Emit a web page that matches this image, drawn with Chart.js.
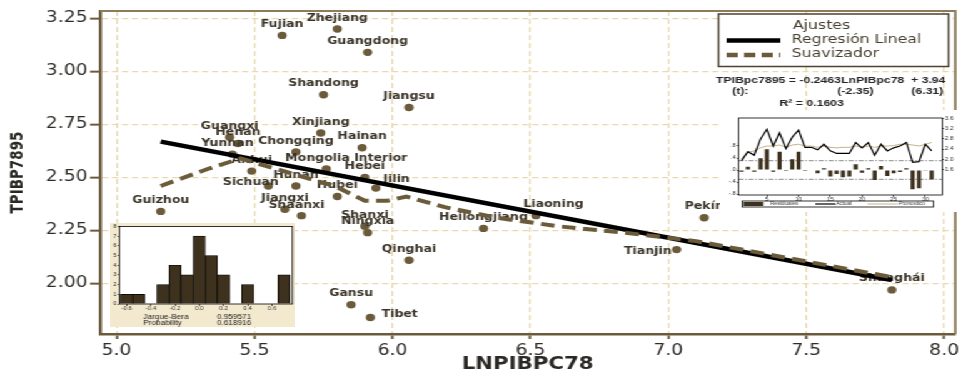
<!DOCTYPE html>
<html lang="es">
<head>
<meta charset="utf-8">
<title>TPIBP7895 vs LNPIBPC78</title>
<script src="https://cdn.jsdelivr.net/npm/chart.js@4.4.1/dist/chart.umd.min.js"></script>
<style>
  html, body { margin: 0; padding: 0; background: #fff; overflow: hidden; }
  #stage { position: relative; width: 770px; height: 375px; transform: scaleX(1.2506); transform-origin: 0 0; }
  #stage canvas { position: absolute; display: block; }
  #main { left: 0; top: 0; }
  #hist { left: 88px; top: 223px; }
  #resid { left: 576px; top: 110px; }
</style>
</head>
<body>
<div id="stage">
  <canvas id="main" width="770" height="375"></canvas>
  <canvas id="hist" width="148" height="104"></canvas>
  <canvas id="resid" width="190" height="102"></canvas>
</div>
<script>
// ---------- scatter: provinces ----------
const provinces = ['Fujian','Zhejiang','Guangdong','Shandong','Jiangsu','Xinjiang','Hainan','Guangxi','Henan','Yunnan',
  'Chongqing','Anhui','Mongolia Interior','Hebei','Hunan','Sichuan','Jilin','Hubei','Jiangxi','Shaanxi',
  'Shanxi','Ningxia','Guizhou','Qinghai','Gansu','Tibet','Heilongjiang','Liaoning','Pekín','Tianjin','Shanghái'];
const lnGdp78 = [5.60,5.80,5.91,5.75,6.06,5.74,5.89,5.41,5.44,5.42,
  5.65,5.49,5.76,5.90,5.65,5.55,5.94,5.80,5.61,5.67,
  5.90,5.91,5.16,6.06,5.85,5.92,6.33,6.52,7.13,7.03,7.81];
const growth7895 = [3.17,3.20,3.09,2.89,2.83,2.71,2.64,2.69,2.66,2.61,
  2.62,2.53,2.54,2.50,2.46,2.46,2.45,2.41,2.35,2.32,
  2.27,2.24,2.34,2.11,1.90,1.84,2.26,2.32,2.31,2.16,1.97];

// fitted line TPIBpc7895 = -0.2463 LnPIBpc78 + 3.94
const regSlope = -0.2463;
const regIntercept = 3.94;

// nearest-neighbour smoother
const smoothX = [5.16,5.33,5.45,5.63,5.79,5.90,5.98,6.05,6.19,6.38,6.60,6.84,7.10,7.81];
const smoothY = [2.46,2.54,2.59,2.52,2.46,2.39,2.39,2.41,2.36,2.31,2.27,2.24,2.20,2.03];

const xTicks = [5.0,5.5,6.0,6.5,7.0,7.5,8.0];
const yTicks = [2.00,2.25,2.50,2.75,3.00,3.25];

// ---------- residual histogram ----------
const histBinCenters = [-0.6,-0.5,-0.4,-0.3,-0.2,-0.1,0.0,0.1,0.2,0.3,0.4,0.5,0.6,0.7];
const histCounts = [1,1,0,2,4,3,7,5,3,0,2,0,0,3];
const histTicks = [-0.6,-0.4,-0.2,0.0,0.2,0.4,0.6];
const histCountTicks = [0,1,2,3,4,5,6,7,8];
const jarqueBera = '0.959571';
const jbProbability = '0.618916';

// ---------- residual / actual / fitted ----------
const residuals = [-0.06,0.11,-0.06,0.39,0.69,-0.06,0.61,-0.03,0.36,0.61,
  -0.03,0.02,-0.11,0.06,-0.22,-0.13,-0.24,-0.22,0.19,-0.09,
  0.06,-0.33,0.13,-0.20,-0.11,-0.07,0.06,-0.64,-0.61,-0.01,-0.31];
const residActual = [1.95,2.30,2.16,2.80,3.18,2.52,3.04,2.42,2.87,3.15,
  2.47,2.47,2.37,2.59,2.33,2.23,2.23,2.23,2.66,2.45,
  2.66,2.16,2.59,2.33,2.45,2.52,2.66,1.88,1.91,2.59,2.33];
const residFitted = [2.02,2.28,2.33,2.45,2.52,2.52,2.56,2.47,2.56,2.59,
  2.52,2.52,2.47,2.52,2.47,2.45,2.47,2.47,2.52,2.47,
  2.52,2.47,2.52,2.52,2.54,2.59,2.59,2.56,2.52,2.59,2.66];
const residSE = 0.31;
const obsTicks = [5,10,15,20,25,30];
const residTicks = [-0.8,-0.4,0,0.4,0.8];
const levelTicks = [1.6,2.0,2.4,2.8,3.2,3.6];

// ---------- styling ----------
const BROWN = '#6b5b3b';
const AXIS = '#6b5b3d';
const GRID = '#e8d9b0';
const LABEL_FONT = 'bold 10px "DejaVu Sans"';

// where a province name sits relative to its marker (canvas px)
const labelPlacement = {
  'Tibet':             { align: 'left',   dx: 9,   dy: -3 },
  'Tianjin':           { align: 'right',  dx: -4,  dy: 2 },
  'Sichuan':           { align: 'center', dx: -14, dy: -4 },
  'Jilin':             { align: 'left',   dx: 6,   dy: -9 },
  'Liaoning':          { align: 'center', dx: 14,  dy: -11 },
  'Mongolia Interior': { align: 'center', dx: 16,  dy: -11 },
  'Shaanxi':           { align: 'center', dx: -4,  dy: -10 },
  'Yunnan':            { align: 'center', dx: -4,  dy: -11 }
};
const defaultPlacement = { align: 'center', dx: 0, dy: -11 };

const fixTicks = list => scale => { scale.ticks = list.map(v => ({ value: v })); };

// ---------- main scatter ----------
const points = provinces.map((p, i) => ({ x: lnGdp78[i], y: growth7895[i] }));
const xLo = Math.min(...lnGdp78), xHi = Math.max(...lnGdp78);
const regLine = [xLo, xHi].map(x => ({ x, y: regIntercept + regSlope * x }));
const smoothLine = smoothX.map((x, i) => ({ x, y: smoothY[i] }));

const mainDecor = {
  id: 'mainDecor',
  afterDatasetDraw(chart, args) {
    if (args.index !== 2) return;
    const ctx = chart.ctx;
    ctx.save();
    ctx.font = LABEL_FONT;
    ctx.fillStyle = '#3a3327';
    ctx.textBaseline = 'middle';
    args.meta.data.forEach((pt, i) => {
      const p = labelPlacement[provinces[i]] || defaultPlacement;
      ctx.textAlign = p.align;
      ctx.fillText(provinces[i], pt.x + p.dx, pt.y + p.dy);
    });
    ctx.restore();
  },
  afterDraw(chart) {
    const { ctx, chartArea: a } = chart;
    ctx.save();
    // top and right frame
    ctx.strokeStyle = '#8c7c5a';
    ctx.lineWidth = 2;
    ctx.beginPath();
    ctx.moveTo(a.left, a.top);
    ctx.lineTo(a.right, a.top);
    ctx.lineTo(a.right, a.bottom);
    ctx.stroke();

    // legend box
    const bx = 574.5, by = 14, bw = 184, bh = 52.5;
    ctx.fillStyle = '#fff';
    ctx.fillRect(bx, by, bw, bh);
    ctx.strokeStyle = '#4d4130';
    ctx.lineWidth = 1.5;
    ctx.strokeRect(bx, by, bw, bh);
    ctx.font = '12.6px "DejaVu Sans"';
    ctx.fillStyle = '#463e2c';
    ctx.textAlign = 'left';
    ctx.textBaseline = 'middle';
    ctx.fillText('Ajustes', 634, 25.5);
    ctx.fillText('Regresión Lineal', 633, 40);
    ctx.fillText('Suavizador', 633, 54);
    ctx.lineWidth = 4.5;
    ctx.strokeStyle = '#000';
    ctx.beginPath(); ctx.moveTo(581, 40.5); ctx.lineTo(624, 40.5); ctx.stroke();
    ctx.strokeStyle = BROWN;
    ctx.setLineDash([9, 5]);
    ctx.beginPath(); ctx.moveTo(581, 55); ctx.lineTo(624, 55); ctx.stroke();
    ctx.setLineDash([]);

    // regression equation
    ctx.font = 'bold 9.8px "Liberation Sans"';
    ctx.fillStyle = '#262626';
    ctx.textAlign = 'right';
    ctx.fillText('TPIBpc7895 = -0.2463LnPIBpc78  + 3.94', 756, 80);
    ctx.textAlign = 'center';
    ctx.fillText('(t):', 592, 91.5);
    ctx.fillText('(-2.35)', 684, 91.5);
    ctx.fillText('(6.31)', 741.5, 91.5);
    ctx.fillText('R² = 0.1603', 649, 103);
    ctx.restore();
  }
};

new Chart(document.getElementById('main'), {
  type: 'scatter',
  data: {
    datasets: [
      { label: 'Suavizador', type: 'line', data: smoothLine, borderColor: BROWN, borderWidth: 4,
        borderDash: [11, 6], pointRadius: 0, fill: false, tension: 0 },
      { label: 'Regresión Lineal', type: 'line', data: regLine, borderColor: '#000', borderWidth: 4.5,
        pointRadius: 0, fill: false },
      { label: 'Provincias', data: points, backgroundColor: BROWN, borderWidth: 0,
        pointRadius: 3.7, pointHoverRadius: 3.7 }
    ]
  },
  options: {
    responsive: false, animation: false, devicePixelRatio: 1,
    layout: { padding: { top: 9, right: 4, left: 0, bottom: 0 } },
    plugins: { legend: { display: false }, tooltip: { enabled: false } },
    scales: {
      x: {
        type: 'linear', min: 4.94, max: 8.04,
        afterBuildTicks: fixTicks(xTicks),
        afterFit: s => { s.height = 41; },
        ticks: { callback: v => Number(v).toFixed(1), font: { family: 'DejaVu Sans', size: 15 },
          color: '#2e2c28', padding: 3, maxRotation: 0, autoSkip: false },
        grid: { color: GRID, lineWidth: 1.3, tickColor: AXIS, tickLength: 5, tickWidth: 2 },
        border: { color: AXIS, width: 2.5, dash: [5, 3] },
        title: { display: true, text: 'LNPIBPC78', color: '#2a2824', padding: { top: 0, bottom: 0 },
          font: { family: 'DejaVu Sans', size: 17, weight: 'bold' } }
      },
      y: {
        type: 'linear', min: 1.762, max: 3.285,
        afterBuildTicks: fixTicks(yTicks),
        afterFit: s => { s.width = 80; },
        ticks: { callback: v => Number(v).toFixed(2), font: { family: 'DejaVu Sans', size: 15 },
          color: '#2e2c28', padding: 2, autoSkip: false },
        grid: { color: GRID, lineWidth: 1.3, tickColor: AXIS, tickLength: 8, tickWidth: 2 },
        border: { color: AXIS, width: 2.5, dash: [5, 3] },
        title: { display: true, text: 'TPIBP7895', color: '#2a2824', padding: { top: 6.5, bottom: 0 },
          font: { family: 'DejaVu Sans', size: 13.5, weight: 'bold' } }
      }
    }
  },
  plugins: [mainDecor]
});

// ---------- histogram inset ----------
const tinyFont = { family: 'Liberation Sans', size: 5 };
const histDecor = {
  id: 'histDecor',
  beforeDraw(chart) {
    const { ctx, chartArea: a, width, height } = chart;
    ctx.save();
    ctx.fillStyle = '#f3e9cf';
    ctx.fillRect(0, 0, width, height);
    ctx.fillStyle = '#fff';
    ctx.fillRect(a.left, a.top, a.right - a.left, a.bottom - a.top);
    ctx.restore();
  },
  afterDraw(chart) {
    const { ctx, chartArea: a } = chart;
    ctx.save();
    ctx.strokeStyle = '#000';
    ctx.lineWidth = 0.8;
    ctx.strokeRect(a.left, a.top, a.right - a.left, a.bottom - a.top);
    ctx.font = '6.6px "Liberation Sans"';
    ctx.fillStyle = '#222';
    ctx.textBaseline = 'middle';
    ctx.textAlign = 'left';
    ctx.fillText('Jarque-Bera', 26.6, 93.7);
    ctx.fillText(jarqueBera, 85.4, 93.7);
    ctx.fillText('Probability', 26.6, 100.6);
    ctx.fillText(jbProbability, 85.4, 100.6);
    ctx.restore();
  }
};

new Chart(document.getElementById('hist'), {
  type: 'bar',
  data: {
    datasets: [{
      data: histBinCenters.map((c, i) => ({ x: c, y: histCounts[i] })),
      backgroundColor: '#3e321f', borderColor: '#000', borderWidth: 0.7,
      barPercentage: 1, categoryPercentage: 1
    }]
  },
  options: {
    responsive: false, animation: false, devicePixelRatio: 1,
    layout: { padding: { top: 2, right: 2.2, left: 0, bottom: 0 } },
    plugins: { legend: { display: false }, tooltip: { enabled: false } },
    scales: {
      x: {
        type: 'linear', min: -0.661, max: 0.769, offset: false,
        afterBuildTicks: fixTicks(histTicks),
        afterFit: s => { s.height = 23; },
        ticks: { callback: v => Number(v).toFixed(1), font: tinyFont, color: '#333', padding: 0, maxRotation: 0, autoSkip: false },
        grid: { offset: false, drawOnChartArea: false, tickLength: 2, tickColor: '#000', tickWidth: 0.6 },
        border: { display: false }
      },
      y: {
        type: 'linear', min: 0, max: 8,
        afterBuildTicks: fixTicks(histCountTicks),
        afterFit: s => { s.width = 7.4; },
        ticks: { font: tinyFont, color: '#333', padding: 0.5, autoSkip: false },
        grid: { drawOnChartArea: false, tickLength: 1.5, tickColor: '#000', tickWidth: 0.6 },
        border: { display: false }
      }
    }
  },
  plugins: [histDecor]
});

// ---------- residual / actual / fitted inset ----------
const obs = residuals.map((r, i) => i + 1);
const residFmt = v => {
  if (Math.abs(v) < 1e-9) return '.0';
  return (v < 0 ? '-' : '') + '.' + Math.round(Math.abs(v) * 10);
};
const residDecor = {
  id: 'residDecor',
  beforeDraw(chart) {
    const { ctx, width, height } = chart;
    ctx.save();
    ctx.fillStyle = '#fff';
    ctx.fillRect(0, 0, width, height);
    ctx.restore();
  },
  beforeDatasetsDraw(chart) {
    const { ctx, chartArea: a, scales } = chart;
    ctx.save();
    ctx.strokeStyle = '#6a6a6a';
    ctx.lineWidth = 0.8;
    ctx.setLineDash([4, 1.5, 1, 1.5]);
    [residSE, -residSE].forEach(v => {
      const y = scales.yL.getPixelForValue(v);
      ctx.beginPath(); ctx.moveTo(a.left, y); ctx.lineTo(a.right, y); ctx.stroke();
    });
    ctx.restore();
  },
  afterDraw(chart) {
    const { ctx, chartArea: a } = chart;
    ctx.save();
    ctx.strokeStyle = '#000';
    ctx.lineWidth = 0.8;
    ctx.strokeRect(a.left, a.top, a.right - a.left, a.bottom - a.top);
    // series key
    ctx.strokeRect(17.4, 91, 153.2, 6);
    ctx.fillStyle = '#3e321f';
    ctx.fillRect(18.4, 92, 16, 4);
    ctx.lineWidth = 1.2;
    ctx.beginPath(); ctx.moveTo(76, 94); ctx.lineTo(92, 94); ctx.stroke();
    ctx.strokeStyle = '#c8b28a';
    ctx.lineWidth = 1;
    ctx.beginPath(); ctx.moveTo(117.6, 94); ctx.lineTo(141.6, 94); ctx.stroke();
    ctx.font = '4.5px "Liberation Sans"';
    ctx.fillStyle = '#333';
    ctx.textBaseline = 'middle';
    ctx.textAlign = 'left';
    ctx.fillText('Residuales', 40, 94.2);
    ctx.fillText('Actual', 92.5, 94.2);
    ctx.fillText('Pronostico', 142.5, 94.2);
    ctx.restore();
  }
};

new Chart(document.getElementById('resid'), {
  type: 'bar',
  data: {
    datasets: [
      { type: 'line', data: obs.map((o, i) => ({ x: o, y: residActual[i] })), yAxisID: 'yR',
        borderColor: '#000', borderWidth: 1.2, pointRadius: 0, tension: 0 },
      { type: 'line', data: obs.map((o, i) => ({ x: o, y: residFitted[i] })), yAxisID: 'yR',
        borderColor: '#c8b28a', borderWidth: 1, pointRadius: 0, tension: 0 },
      { type: 'bar', data: obs.map((o, i) => ({ x: o, y: residuals[i] })), yAxisID: 'yL',
        backgroundColor: '#3e321f', barPercentage: 0.65, categoryPercentage: 1 }
    ]
  },
  options: {
    responsive: false, animation: false, devicePixelRatio: 1,
    layout: { padding: { top: 8, right: 0, left: 0, bottom: 0 } },
    plugins: { legend: { display: false }, tooltip: { enabled: false } },
    scales: {
      x: {
        type: 'linear', min: 0.53, max: 32.66, offset: false,
        afterBuildTicks: fixTicks(obsTicks),
        afterFit: s => { s.height = 17; },
        ticks: { font: tinyFont, color: '#333', padding: 0, maxRotation: 0, autoSkip: false },
        grid: { offset: false, drawOnChartArea: false, tickLength: 2, tickColor: '#000', tickWidth: 0.6 },
        border: { display: false }
      },
      yL: {
        position: 'left', type: 'linear', min: -0.833, max: 1.733,
        afterBuildTicks: fixTicks(residTicks),
        afterFit: s => { s.width = 14.6; },
        ticks: { callback: residFmt, font: tinyFont, color: '#333', padding: 0.6, autoSkip: false },
        grid: { drawOnChartArea: false, tickLength: 1.5, tickColor: '#000', tickWidth: 0.6 },
        border: { display: false }
      },
      yR: {
        position: 'right', type: 'linear', min: 0.6, max: 3.62,
        afterBuildTicks: fixTicks(levelTicks),
        afterFit: s => { s.width = 12.6; },
        ticks: { callback: v => Number(v).toFixed(1), font: tinyFont, color: '#333', padding: 0.6, autoSkip: false },
        grid: { drawOnChartArea: false, tickLength: 1.5, tickColor: '#000', tickWidth: 0.6 },
        border: { display: false }
      }
    }
  },
  plugins: [residDecor]
});
</script>
</body>
</html>
